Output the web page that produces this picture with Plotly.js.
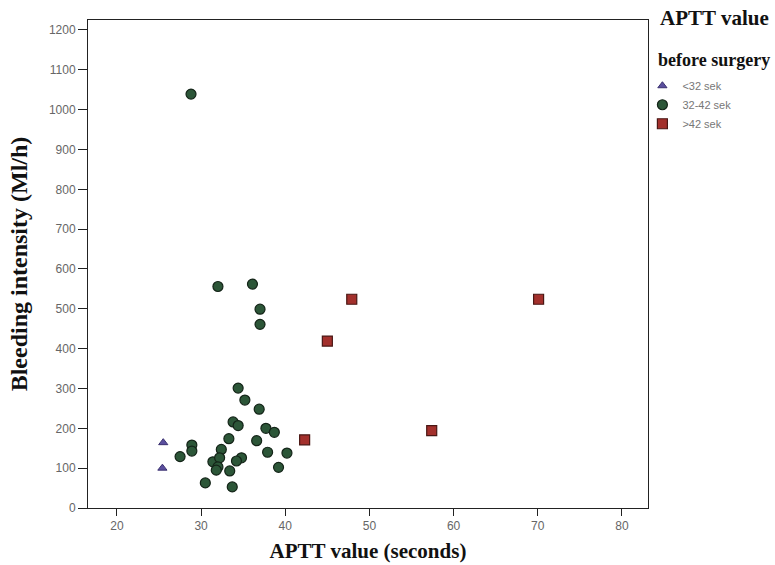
<!DOCTYPE html>
<html>
<head>
<meta charset="utf-8">
<script src="https://cdn.plot.ly/plotly-3.0.1.min.js"></script>
<style>html,body{margin:0;padding:0;background:#fff;}#chart{width:775px;height:565px;}</style>
</head>
<body>
<div id="chart"></div>
<script>
// APTT < 32 sec group
const lowX = [25.5, 25.4];
const lowY = [164, 100];
// APTT 32-42 sec group
const midX = [28.8, 32.0, 36.1, 37.0, 37.0, 34.4, 35.2, 36.9, 33.8, 34.4, 37.7, 38.7, 33.3, 36.6, 28.9, 28.9, 27.5, 32.4, 31.4, 32.2, 32.0, 33.4, 34.8, 34.2, 37.9, 40.2, 39.2, 30.5, 33.7, 31.8];
const midY = [1039, 556, 562, 499, 461, 301, 271, 248, 216, 207, 200, 190, 174, 169, 158, 143, 129, 147, 116, 126, 103, 93, 126, 118, 140, 138, 102, 63, 53, 95];
// APTT > 42 sec group
const highX = [47.9, 45.0, 42.3, 57.4, 70.1];
const highY = [524, 419, 171, 194, 524];

const groupNames = ['<32 sek', '32-42 sek', '>42 sek'];
const xTicks = [20, 30, 40, 50, 60, 70, 80];
const yTicks = [0, 100, 200, 300, 400, 500, 600, 700, 800, 900, 1000, 1100, 1200];

const traces = [
  {x: lowX, y: lowY, name: groupNames[0], type: 'scatter', mode: 'markers',
   marker: {symbol: 'triangle-up', size: 8, color: '#5b4f9e', line: {color: '#3a3070', width: 1}}},
  {x: midX, y: midY, name: groupNames[1], type: 'scatter', mode: 'markers',
   marker: {symbol: 'circle', size: 10, color: '#2c5638', line: {color: '#142418', width: 1.2}}},
  {x: highX, y: highY, name: groupNames[2], type: 'scatter', mode: 'markers',
   marker: {symbol: 'square', size: 10, color: '#a3302c', line: {color: '#4a1714', width: 1.2}}}
];

const tickFont = {family: 'Liberation Sans, Arial, sans-serif', size: 12, color: '#666'};
const serif = 'Liberation Serif, Times New Roman, serif';

const layout = {
  width: 775, height: 565,
  margin: {l: 88, r: 127, t: 20, b: 57},
  paper_bgcolor: '#fff', plot_bgcolor: '#fff',
  showlegend: true,
  xaxis: {
    range: [16.56, 83.1], tickvals: xTicks, ticktext: xTicks.map(String),
    showgrid: false, zeroline: false, showline: true, linecolor: '#222', linewidth: 1, mirror: true,
    ticks: 'outside', ticklen: 7, tickcolor: '#222', tickfont: tickFont,
    title: {text: '<b>APTT value (seconds)</b>', font: {family: serif, size: 21, color: '#111'}, standoff: 10}
  },
  yaxis: {
    range: [0, 1225], tickvals: yTicks, ticktext: yTicks.map(String),
    showgrid: false, zeroline: false, showline: true, linecolor: '#222', linewidth: 1, mirror: true,
    ticks: 'outside', ticklen: 9, tickcolor: '#222', tickfont: tickFont,
    title: {text: '<b>Bleeding intensity (Ml/h)</b>', font: {family: serif, size: 24, color: '#111'}, standoff: 14}
  },
  legend: {
    x: 0.99, xanchor: 'left', y: 0.895, yanchor: 'top',
    font: {family: 'Liberation Sans, Arial, sans-serif', size: 11, color: '#777'},
    bgcolor: 'rgba(0,0,0,0)', itemwidth: 30, tracegroupgap: 0
  },
  annotations: [
    {xref: 'paper', yref: 'paper', x: 1.018, y: 1.004, xanchor: 'left', yanchor: 'middle', showarrow: false,
     text: '<b>APTT value</b>', font: {family: serif, size: 21, color: '#111'}},
    {xref: 'paper', yref: 'paper', x: 1.014, y: 0.918, xanchor: 'left', yanchor: 'middle', showarrow: false,
     text: '<b>before surgery</b>', font: {family: serif, size: 18, color: '#111'}}
  ]
};

Plotly.newPlot('chart', traces, layout, {displayModeBar: false, staticPlot: true});
</script>
</body>
</html>
